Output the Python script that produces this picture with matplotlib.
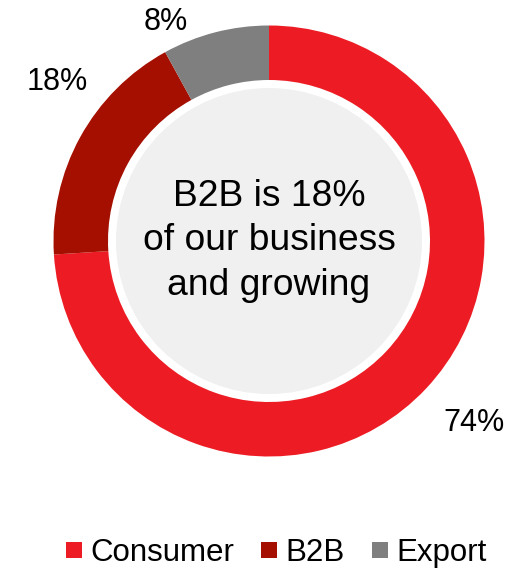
import numpy as np
import matplotlib.pyplot as plt
from matplotlib.lines import Line2D

plt.rcParams['font.family'] = ['Liberation Sans', 'DejaVu Sans']

# data
segments = ['Consumer', 'B2B', 'Export']
shares = [74, 18, 8]
share_labels = ['74%', '18%', '8%']
colors = ['#ED1C24', '#A50F00', '#7F7F7F']
center_text = 'B2B is 18%\nof our business\nand growing'

W, H = 531, 572
fig = plt.figure(figsize=(W / 100, H / 100), dpi=100)
ax = fig.add_axes([0, 0, 1, 1])

cx, cy = 269, H - 241
r_out = 215.5
r_in = 161

wedges, _ = ax.pie(shares, colors=colors, startangle=90, counterclock=False,
                   center=(cx, cy), radius=r_out,
                   wedgeprops=dict(width=r_out - r_in, linewidth=0))

# inner light circle
ax.add_patch(plt.Circle((cx, cy), 153, color='#F0F0F0', lw=0))
ax.text(cx, cy, center_text, ha='center', va='center', fontsize=26.8,
        linespacing=1.35, color='black')

# percentage labels (outside end)
label_pos = [(474, 423), (57, 82), (166, 22)]
for txt, (px, py) in zip(share_labels, label_pos):
    ax.text(px, H - py, txt, ha='center', va='center', fontsize=22)

ax.set_xlim(0, W)
ax.set_ylim(0, H)
ax.set_aspect('equal')
ax.axis('off')

handles = [Line2D([], [], marker='s', linestyle='none', markersize=11.5,
                  markerfacecolor=c, markeredgewidth=0) for c in colors]
fig.legend(handles, segments, loc='lower center', bbox_to_anchor=(0.52, -0.014),
           ncol=3, frameon=False, fontsize=22.5, handlelength=0.55,
           handletextpad=0.25, columnspacing=0.85, borderaxespad=0)

fig.savefig('out.png', dpi=100)
